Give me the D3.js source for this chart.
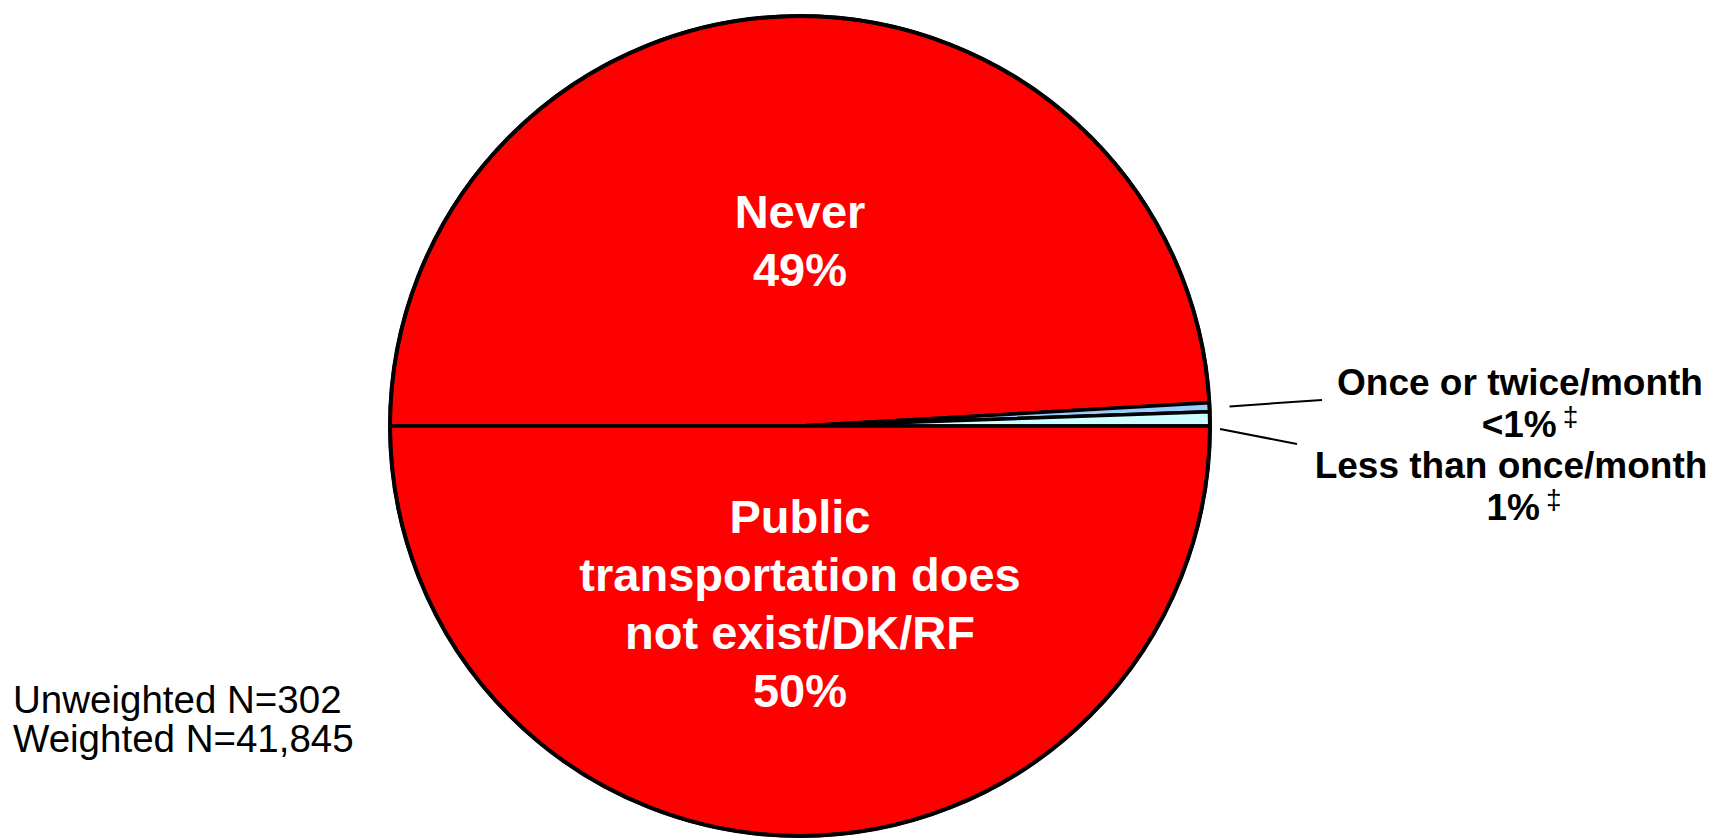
<!DOCTYPE html>
<html>
<head>
<meta charset="utf-8">
<script src="https://cdn.jsdelivr.net/npm/d3@7"></script>
<style>
  html, body { margin: 0; padding: 0; background: #fff; }
  svg { display: block; font-family: "Liberation Sans", Arial, sans-serif; }
</style>
</head>
<body>
<svg id="chart" width="1713" height="838"></svg>
<script>
// ---- data ----
const categories = ["Never", "Once or twice/month", "Less than once/month", "Public transportation does not exist/DK/RF"];
const values = [49.1, 0.35, 0.55, 50.0];
const valueLabels = ["49%", "<1%", "1%", "50%"];
const labelLines = [["Never"], ["Once or twice/month"], ["Less than once/month"], ["Public", "transportation does", "not exist/DK/RF"]];
const footnotes = ["Unweighted N=302", "Weighted N=41,845"];
const sigMark = [false, true, true, false];

// ---- style ----
const colors = ["#FF0000", "#99CCFF", "#CCFFFF", "#FF0000"];

const svg = d3.select("#chart");
const cx = 800, cy = 426, r = 410;

const data = categories.map((c, i) => ({ name: c, value: values[i], label: valueLabels[i], lines: labelLines[i], sig: sigMark[i], color: colors[i] }));

const pie = d3.pie().sort(null).value(d => d.value)
  .startAngle(-Math.PI / 2).endAngle(3 * Math.PI / 2);
const arcs = pie(data);
const arc = d3.arc().innerRadius(0).outerRadius(r);

const g = svg.append("g").attr("transform", `translate(${cx},${cy})`);
g.selectAll("path.slice").data(arcs).enter().append("path")
  .attr("class", "slice")
  .attr("d", arc)
  .attr("fill", d => d.data.color)
  .attr("stroke", "#000")
  .attr("stroke-width", 3.5)
  .attr("stroke-linejoin", "round");

// outer ring
g.append("circle").attr("r", r).attr("fill", "none").attr("stroke", "#000").attr("stroke-width", 4);

// ---- inside labels ----
const lineH = 58;
function insideLabel(d, firstBaseline) {
  const t = g.append("text")
    .attr("text-anchor", "middle")
    .attr("fill", "#fff")
    .attr("font-weight", "bold")
    .attr("font-size", 47);
  const lines = d.data.lines.concat([d.data.label]);
  lines.forEach((ln, i) => {
    t.append("tspan").attr("x", 0).attr("y", firstBaseline + i * lineH).text(ln);
  });
}
insideLabel(arcs[0], 228 - cy);
insideLabel(arcs[3], 533 - cy);

// ---- outside labels with leader lines ----
function pt(angle, rad) { return [Math.sin(angle) * rad, -Math.cos(angle) * rad]; }

const outside = [
  { a: arcs[1], startAngle: (arcs[1].startAngle + arcs[1].endAngle) / 2, startR: r + 20, end: [1322 - cx, 400 - cy], tx: 1520, px: 1530, base: 395 },
  { a: arcs[2], startAngle: arcs[2].endAngle + 0.007, startR: r + 10, end: [1297 - cx, 444 - cy], tx: 1511, px: 1524, base: 478 }
];
const sLH = 42;
outside.forEach(o => {
  const s = pt(o.startAngle, o.startR);
  g.append("line")
    .attr("x1", s[0]).attr("y1", s[1])
    .attr("x2", o.end[0]).attr("y2", o.end[1])
    .attr("stroke", "#000").attr("stroke-width", 2);
  const t = svg.append("text")
    .attr("text-anchor", "middle")
    .attr("font-weight", "bold")
    .attr("font-size", 37)
    .attr("fill", "#000");
  o.a.data.lines.forEach((ln, i) => {
    t.append("tspan").attr("x", o.tx).attr("y", o.base + i * sLH).text(ln);
  });
  const t2 = svg.append("text")
    .attr("text-anchor", "middle")
    .attr("font-weight", "bold")
    .attr("font-size", 37)
    .attr("fill", "#000")
    .attr("x", o.px)
    .attr("y", o.base + o.a.data.lines.length * sLH);
  t2.append("tspan").text(o.a.data.label);
  if (o.a.data.sig) {
    t2.append("tspan").attr("font-weight", "normal").attr("font-size", 28)
      .attr("dx", 6).attr("dy", -11).text("\u2021");
  }
});

// ---- footnote ----
const fn = svg.append("text").attr("font-size", 38.5).attr("fill", "#000");
footnotes.forEach((f, i) => {
  fn.append("tspan").attr("x", 13).attr("y", 713 + i * 39).text(f);
});
</script>
</body>
</html>
